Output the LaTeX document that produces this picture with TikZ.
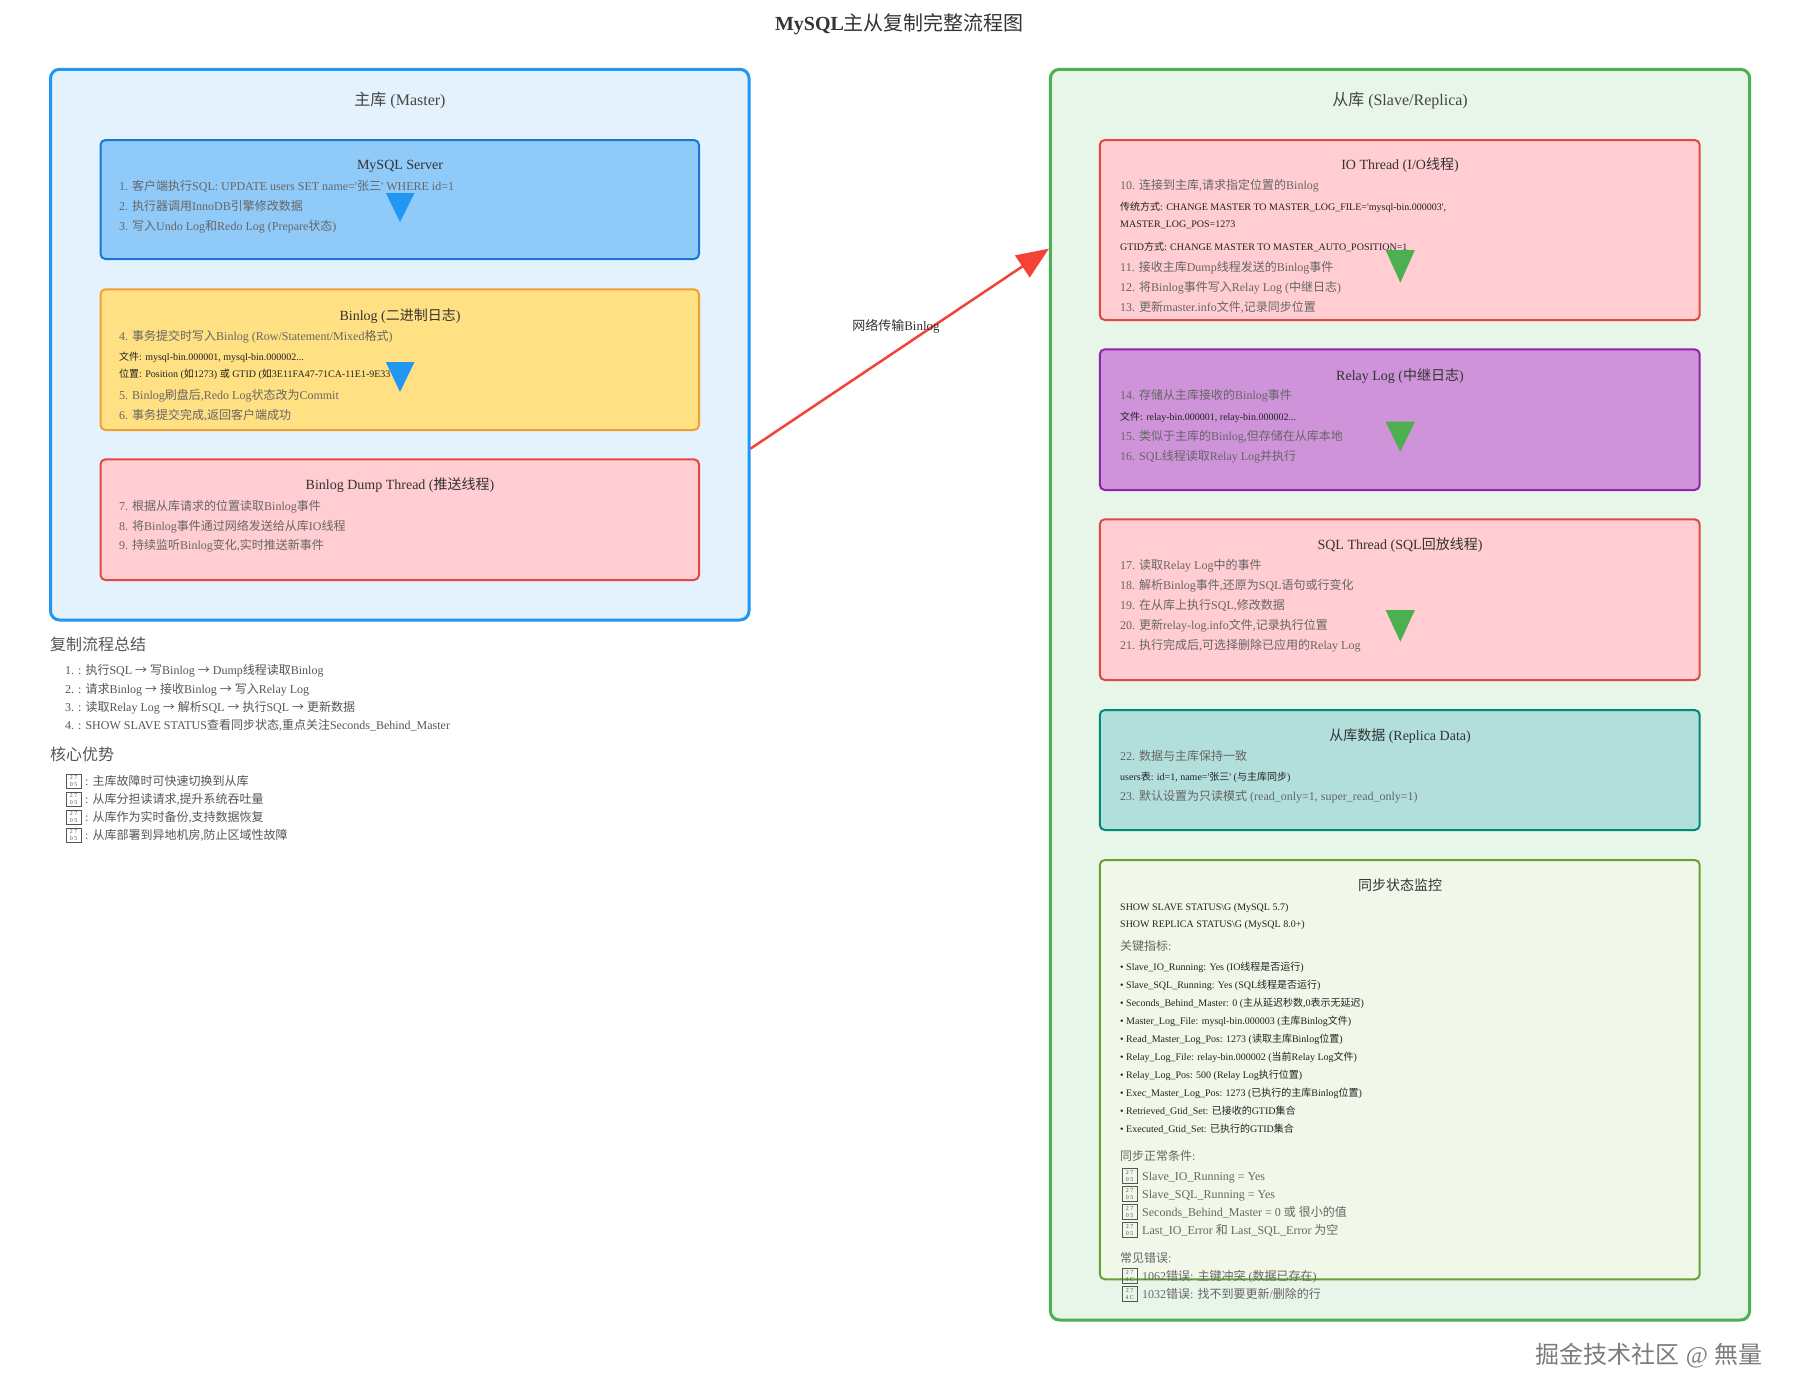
\documentclass[tikz,border=0pt]{standalone}
\usepackage{fontspec}
\setmainfont{Liberation Serif}
\newfontfamily\cjkfont{Noto Sans CJK SC}
\usetikzlibrary{arrows.meta}
\XeTeXinterchartokenstate=1
\newXeTeXintercharclass\cjkcls
\count255="4E00
\loop\XeTeXcharclass\count255=\cjkcls\advance\count255 by 1\ifnum\count255<"A000\repeat
\count255="3000
\loop\XeTeXcharclass\count255=\cjkcls\advance\count255 by 1\ifnum\count255<"3040\repeat
\count255="FF00
\loop\XeTeXcharclass\count255=\cjkcls\advance\count255 by 1\ifnum\count255<"FFF0\repeat
\XeTeXcharclass"2192=\cjkcls
\XeTeXinterchartoks 0 \cjkcls={\cjkfont}
\XeTeXinterchartoks 4095 \cjkcls={\cjkfont}
\XeTeXinterchartoks \cjkcls 0={\rmfamily}
\XeTeXinterchartoks \cjkcls 4095={\rmfamily}
\definecolor{cA}{HTML}{333333}
\definecolor{cB}{HTML}{444444}
\definecolor{cC}{HTML}{666666}
\definecolor{cD}{HTML}{222222}
\definecolor{cE}{HTML}{555555}
\definecolor{mfill}{HTML}{E3F2FD}
\definecolor{mdraw}{HTML}{2196F3}
\definecolor{sfill}{HTML}{E8F5E9}
\definecolor{sdraw}{HTML}{4CAF50}
\definecolor{srvfill}{HTML}{90CAF9}
\definecolor{srvdraw}{HTML}{1976D2}
\definecolor{binfill}{HTML}{FFE082}
\definecolor{bindraw}{HTML}{F0A030}
\definecolor{redfill}{HTML}{FFCDD2}
\definecolor{reddraw}{HTML}{E04848}
\definecolor{relfill}{HTML}{CE93D8}
\definecolor{reldraw}{HTML}{8E24AA}
\definecolor{repfill}{HTML}{B2DFDB}
\definecolor{repdraw}{HTML}{00897B}
\definecolor{monfill}{HTML}{F1F8E9}
\definecolor{mondraw}{HTML}{689F38}
\definecolor{netred}{HTML}{F44336}
\definecolor{wm}{HTML}{7C7C7C}
\newcommand\sq{\textquotesingle}
\newcommand\putline[5]{\node[#1] (#2) at (#3,#4) {#5};}
\begin{document}
\begin{tikzpicture}[x=1pt,y=-1pt,
  ttl/.style={anchor=base, inner sep=0pt, text=cA, font=\fontsize{14}{16}\selectfont},
  otl/.style={anchor=base, inner sep=0pt, text=cB, font=\fontsize{16}{18}\selectfont},
  itm/.style={anchor=base west, inner sep=0pt, text=cC, font=\fontsize{12}{14}\selectfont},
  sml/.style={anchor=base west, inner sep=0pt, text=cD, font=\fontsize{10}{12}\selectfont},
  hd/.style={anchor=base west, inner sep=0pt, text=cE, font=\fontsize{16}{18}\selectfont},
  sit/.style={anchor=base west, inner sep=0pt, text=cE, font=\fontsize{12}{14}\selectfont},
  tofu/.style={draw=cE, line width=0.7pt, inner sep=0pt, minimum width=15pt, minimum height=15pt, align=center, font=\fontsize{6}{6.5}\selectfont, text=cE},
  pnl/.style={rounded corners=5pt, line width=2pt, inner sep=0pt},
  outerbox/.style={rounded corners=9pt, line width=3pt, inner sep=0pt},
  tribl/.style={fill=mdraw},
  trigr/.style={fill=sdraw}]
\useasboundingbox (0,0) rectangle (1800,1400);
\fill[white] (0,0) rectangle (1800,1400);

% title
\node[anchor=base, inner sep=0pt, text=cA, font=\fontsize{20}{24}\selectfont] (title) at (899.5,30.3) {{\bfseries MySQL}主从复制完整流程图};

% outer panels
\node[outerbox, draw=mdraw, fill=mfill, minimum width=698.5pt, minimum height=550.7pt] (master) at (399.75,344.65) {};
\node[outerbox, draw=sdraw, fill=sfill, minimum width=699.2pt, minimum height=1250.7pt] (slave) at (1400,694.65) {};
\putline{otl}{mtitle}{400}{105.6}{主库 (Master)}
\putline{otl}{stitle}{1400}{105.6}{从库 (Slave/Replica)}

% master inner boxes
\node[pnl, draw=srvdraw, fill=srvfill, minimum width=598.5pt, minimum height=119pt] (srv) at (399.75,199.5) {};
\node[pnl, draw=bindraw, fill=binfill, minimum width=598.5pt, minimum height=140.7pt] (binlog) at (399.75,359.65) {};
\node[pnl, draw=reddraw, fill=redfill, minimum width=598.5pt, minimum height=120.7pt] (dump) at (399.75,519.65) {};

% slave inner boxes
\node[pnl, draw=reddraw, fill=redfill, minimum width=599.9pt, minimum height=180pt] (io) at (1399.75,230) {};
\node[pnl, draw=reldraw, fill=relfill, minimum width=599.9pt, minimum height=140.7pt] (relay) at (1399.75,419.65) {};
\node[pnl, draw=reddraw, fill=redfill, minimum width=599.9pt, minimum height=160.7pt] (sqlt) at (1399.75,599.65) {};
\node[pnl, draw=repdraw, fill=repfill, minimum width=599.9pt, minimum height=120pt] (rep) at (1399.75,770) {};
\node[pnl, draw=mondraw, fill=monfill, minimum width=599.9pt, minimum height=419.3pt] (mon) at (1399.75,1069.65) {};

% MySQL Server
\putline{ttl}{srvT}{400}{169.9}{MySQL Server}
\putline{itm}{srv1}{119}{190.2}{1. 客户端执行SQL: UPDATE users SET name=\sq 张三\sq{} WHERE id=1}
\putline{itm}{srv2}{119}{210.2}{2. 执行器调用InnoDB引擎修改数据}
\putline{itm}{srv3}{119}{230.2}{3. 写入Undo Log和Redo Log (Prepare状态)}

% Binlog
\putline{ttl}{binT}{400}{320.6}{Binlog (二进制日志)}
\putline{itm}{bin1}{119}{340.2}{4. 事务提交时写入Binlog (Row/Statement/Mixed格式)}
\putline{sml}{bin2}{119}{360.2}{文件: mysql-bin.000001, mysql-bin.000002...}
\putline{sml}{bin3}{119}{377.8}{位置: Position (如1273) 或 GTID (如3E11FA47-71CA-11E1-9E33}
\putline{itm}{bin4}{119}{399.9}{5. Binlog刷盘后,Redo Log状态改为Commit}
\putline{itm}{bin5}{119}{419.9}{6. 事务提交完成,返回客户端成功}

% Dump thread
\putline{ttl}{dumpT}{400}{489.9}{Binlog Dump Thread (推送线程)}
\putline{itm}{dump1}{119}{510.2}{7. 根据从库请求的位置读取Binlog事件}
\putline{itm}{dump2}{119}{530.2}{8. 将Binlog事件通过网络发送给从库IO线程}
\putline{itm}{dump3}{119}{549.9}{9. 持续监听Binlog变化,实时推送新事件}

% IO thread
\putline{ttl}{ioT}{1400}{169.9}{IO Thread (I/O线程)}
\putline{itm}{io1}{1120}{189.9}{10. 连接到主库,请求指定位置的Binlog}
\putline{sml}{io2}{1120}{210.2}{传统方式: CHANGE MASTER TO MASTER\_LOG\_FILE=\sq mysql-bin.000003\sq,}
\putline{sml}{io3}{1120}{227.8}{MASTER\_LOG\_POS=1273}
\putline{sml}{io4}{1120}{250.2}{GTID方式: CHANGE MASTER TO MASTER\_AUTO\_POSITION=1}
\putline{itm}{io5}{1120}{271.9}{11. 接收主库Dump线程发送的Binlog事件}
\putline{itm}{io6}{1120}{291.9}{12. 将Binlog事件写入Relay Log (中继日志)}
\putline{itm}{io7}{1120}{311.9}{13. 更新master.info文件,记录同步位置}

% Relay log
\putline{ttl}{relT}{1400}{380.6}{Relay Log (中继日志)}
\putline{itm}{rel1}{1120}{399.9}{14. 存储从主库接收的Binlog事件}
\putline{sml}{rel2}{1120}{420.2}{文件: relay-bin.000001, relay-bin.000002...}
\putline{itm}{rel3}{1120}{440.2}{15. 类似于主库的Binlog,但存储在从库本地}
\putline{itm}{rel4}{1120}{460.2}{16. SQL线程读取Relay Log并执行}

% SQL thread
\putline{ttl}{sqlT}{1400}{549.9}{SQL Thread (SQL回放线程)}
\putline{itm}{sql1}{1120}{569.5}{17. 读取Relay Log中的事件}
\putline{itm}{sql2}{1120}{589.9}{18. 解析Binlog事件,还原为SQL语句或行变化}
\putline{itm}{sql3}{1120}{609.9}{19. 在从库上执行SQL,修改数据}
\putline{itm}{sql4}{1120}{629.9}{20. 更新relay-log.info文件,记录执行位置}
\putline{itm}{sql5}{1120}{649.2}{21. 执行完成后,可选择删除已应用的Relay Log}

% Replica data
\putline{ttl}{repT}{1400}{740.6}{从库数据 (Replica Data)}
\putline{itm}{rep1}{1120}{760.2}{22. 数据与主库保持一致}
\putline{sml}{rep2}{1120}{780.2}{users表: id=1, name=\sq 张三\sq{} (与主库同步)}
\putline{itm}{rep3}{1120}{800.2}{23. 默认设置为只读模式 (read\_only=1, super\_read\_only=1)}

% Monitor
\putline{ttl}{monT}{1400}{890.6}{同步状态监控}
\putline{sml}{mon1}{1120}{910.2}{SHOW SLAVE STATUS\textbackslash G (MySQL 5.7)}
\putline{sml}{mon2}{1120}{927.8}{SHOW REPLICA STATUS\textbackslash G (MySQL 8.0+)}
\putline{itm}{mon3}{1120}{950.2}{关键指标:}
\putline{sml}{monb1}{1120}{970.2}{• Slave\_IO\_Running: Yes (IO线程是否运行)}
\putline{sml}{monb2}{1120}{988.2}{• Slave\_SQL\_Running: Yes (SQL线程是否运行)}
\putline{sml}{monb3}{1120}{1006.2}{• Seconds\_Behind\_Master: 0 (主从延迟秒数,0表示无延迟)}
\putline{sml}{monb4}{1120}{1024.2}{• Master\_Log\_File: mysql-bin.000003 (主库Binlog文件)}
\putline{sml}{monb5}{1120}{1042.2}{• Read\_Master\_Log\_Pos: 1273 (读取主库Binlog位置)}
\putline{sml}{monb6}{1120}{1060.2}{• Relay\_Log\_File: relay-bin.000002 (当前Relay Log文件)}
\putline{sml}{monb7}{1120}{1078.2}{• Relay\_Log\_Pos: 500 (Relay Log执行位置)}
\putline{sml}{monb8}{1120}{1096.2}{• Exec\_Master\_Log\_Pos: 1273 (已执行的主库Binlog位置)}
\putline{sml}{monb9}{1120}{1114.2}{• Retrieved\_Gtid\_Set: 已接收的GTID集合}
\putline{sml}{monb10}{1120}{1132.2}{• Executed\_Gtid\_Set: 已执行的GTID集合}
\putline{itm}{mon4}{1120}{1160.2}{同步正常条件:}
\node[tofu] (okt1) at (1129.5,1176) {2 7\\0 5};
\node[tofu] (okt2) at (1129.5,1194) {2 7\\0 5};
\node[tofu] (okt3) at (1129.5,1212) {2 7\\0 5};
\node[tofu] (okt4) at (1129.5,1230) {2 7\\0 5};
\putline{itm}{ok1}{1142}{1180.2}{Slave\_IO\_Running = Yes}
\putline{itm}{ok2}{1142}{1198.2}{Slave\_SQL\_Running = Yes}
\putline{itm}{ok3}{1142}{1216.2}{Seconds\_Behind\_Master = 0 或 很小的值}
\putline{itm}{ok4}{1142}{1234.2}{Last\_IO\_Error 和 Last\_SQL\_Error 为空}
\putline{itm}{mon5}{1120}{1262.5}{常见错误:}
\node[tofu] (ert1) at (1129.5,1276) {2 7\\4 C};
\node[tofu] (ert2) at (1129.5,1294) {2 7\\4 C};
\putline{itm}{er1}{1142}{1280.2}{1062错误: 主键冲突 (数据已存在)}
\putline{itm}{er2}{1142}{1298.2}{1032错误: 找不到要更新/删除的行}

% summary (left bottom)
\putline{hd}{sumH}{50}{650.6}{复制流程总结}
\putline{sit}{sum1}{65}{674.9}{1. : 执行SQL → 写Binlog → Dump线程读取Binlog}
\putline{sit}{sum2}{65}{693.5}{2. : 请求Binlog → 接收Binlog → 写入Relay Log}
\putline{sit}{sum3}{65}{711.5}{3. : 读取Relay Log → 解析SQL → 执行SQL → 更新数据}
\putline{sit}{sum4}{65}{729.5}{4. : SHOW SLAVE STATUS查看同步状态,重点关注Seconds\_Behind\_Master}
\putline{hd}{advH}{50}{760.6}{核心优势}
\node[tofu, minimum height=14pt] (advt1) at (73.6,781) {2 7\\0 5};
\node[tofu, minimum height=14pt] (advt2) at (73.6,799) {2 7\\0 5};
\node[tofu, minimum height=14pt] (advt3) at (73.6,817) {2 7\\0 5};
\node[tofu, minimum height=14pt] (advt4) at (73.6,835) {2 7\\0 5};
\putline{sit}{adv1}{85}{785.2}{: 主库故障时可快速切换到从库}
\putline{sit}{adv2}{85}{803.2}{: 从库分担读请求,提升系统吞吐量}
\putline{sit}{adv3}{85}{821.2}{: 从库作为实时备份,支持数据恢复}
\putline{sit}{adv4}{85}{839.2}{: 从库部署到异地机房,防止区域性故障}

% triangles (arrowheads)
\fill[tribl] (385.8,193) -- (414.5,193) -- (400,222) -- cycle;
\fill[tribl] (385.8,362) -- (414.5,362) -- (400,392) -- cycle;
\fill[trigr] (1385.6,250) -- (1414.9,250) -- (1400.3,282.7) -- cycle;
\fill[trigr] (1385.6,421.7) -- (1414.9,421.7) -- (1400.3,451.7) -- cycle;
\fill[trigr] (1385.6,610) -- (1414.9,610) -- (1400.3,641.7) -- cycle;

% network connector
\coordinate (netS) at ([yshift=-104pt]master.east);
\coordinate (netE) at ([yshift=446pt]slave.west);
\draw[netred, line width=2.5pt, -{Triangle[length=32pt,width=26pt]}] (netS) -- (netE);
\node[anchor=base, inner sep=0pt, text=cA, font=\fontsize{13}{15}\selectfont] (netL) at (896,330.5) {网络传输Binlog};

% watermark
\node[anchor=base, inner sep=0pt, text=wm, font=\fontsize{24}{28}\selectfont] (wmark) at (1649,1363.4) {掘金技术社区 @ 無量};
\end{tikzpicture}
\end{document}
